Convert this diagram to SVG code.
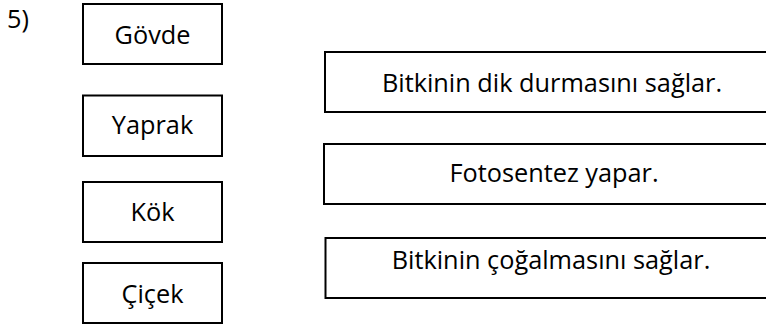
<svg xmlns="http://www.w3.org/2000/svg" width="766" height="327" viewBox="0 0 766 327">
<style>
.box{fill:#fff;stroke:#000;stroke-width:2}
.t{font-family:"Open Sans","Noto Sans","Liberation Sans",sans-serif;font-size:25.3px;fill:#000;text-anchor:middle}
.n{font-family:"Open Sans","Noto Sans","Liberation Sans",sans-serif;font-size:25.3px;fill:#000}
</style>
<rect width="766" height="327" fill="#fff"/>
<text class="n" x="7" y="27.5">5)</text>
<g id="govde"><rect class="box" x="83" y="4" width="139" height="60"/><text class="t" x="152.5" y="43.5">Gövde</text></g>
<g id="yaprak"><rect class="box" x="83" y="95.5" width="139" height="60.5"/><text class="t" x="152.5" y="133.5">Yaprak</text></g>
<g id="kok"><rect class="box" x="83" y="182" width="139" height="60"/><text class="t" x="152.5" y="220.5">Kök</text></g>
<g id="cicek"><rect class="box" x="83" y="263" width="139" height="60"/><text class="t" x="152.5" y="302.5">Çiçek</text></g>
<g id="dik"><rect class="box" x="325" y="52" width="460" height="60"/><text class="t" x="552" y="92">Bitkinin dik durmasını sağlar.</text></g>
<g id="foto"><rect class="box" x="324" y="144" width="460" height="60"/><text class="t" x="554" y="182">Fotosentez yapar.</text></g>
<g id="cogalma"><rect class="box" x="325.5" y="238" width="460" height="60"/><text class="t" x="551" y="268.5">Bitkinin çoğalmasını sağlar.</text></g>
<g id="connectors"/>
</svg>
